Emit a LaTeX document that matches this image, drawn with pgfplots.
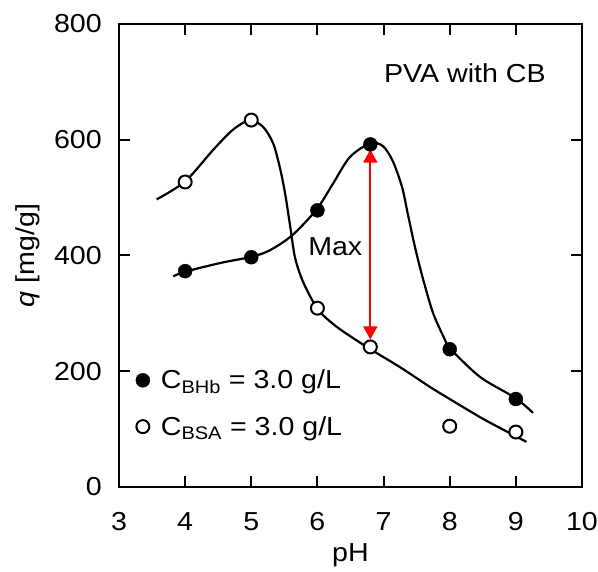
\documentclass[border=0pt]{standalone}
\usepackage{fontspec}
\setmainfont{Liberation Sans}[FakeStretch=1.1]
\usepackage{pgfplots}
\pgfplotsset{compat=1.18}
\usetikzlibrary{arrows.meta}

\begin{document}
\begin{tikzpicture}
\useasboundingbox (-119pt,-85pt) rectangle (479pt,487pt);
\begin{axis}[
    scale only axis,
    width=463pt, height=463pt,
    xmin=3, xmax=10, ymin=0, ymax=800,
    xtick={3,...,10},
    ytick={0,200,...,800},
    tick align=inside,
    major tick length=11pt,
    axis line style={line width=2pt},
    every tick/.style={black, line width=2pt},
    font=\fontsize{26}{31}\selectfont,
    /pgf/number format/assume math mode=true,
    xticklabel style={anchor=center, inner sep=0pt, yshift=-35pt},
    yticklabel style={anchor=east, inner sep=0pt, xshift=-17pt},
    xlabel={pH},
    ylabel={\textit{q} [mg/g]},
    xlabel style={at={(axis description cs:0.5,-0.147)}, anchor=center},
    ylabel style={at={(axis description cs:-0.197,0.5)}, anchor=center},
    legend style={at={(rel axis cs:0.036,0.255)}, anchor=north west, draw=none, fill=none,
        inner sep=0pt, row sep=24pt, column sep=10pt, font=\fontsize{26}{31}\selectfont,
        nodes={inner sep=1pt, anchor=west}},
    legend cell align=left,
    legend image code/.code={\draw plot coordinates {(0.25cm,0cm)};},
]
% fitted curves
\addplot[black, line width=2.2pt, smooth, forget plot] coordinates {
    (3.57,497) (4.0,528) (4.42,582) (4.72,617) (4.98,634) (5.18,622) (5.33,594)
    (5.43,553) (5.51,508) (5.59,449) (5.66,397) (5.77,358) (5.92,323) (6.04,302)
    (6.30,276) (6.65,249) (6.80,238) (7.25,207) (7.70,173) (8.0,152) (8.5,118)
    (8.96,90) (9.16,78)
};
\addplot[black, line width=2.2pt, smooth, forget plot] coordinates {
    (3.82,364) (4.0,372) (4.53,387) (5.01,398) (5.28,409) (5.62,435) (5.99,480)
    (6.24,525) (6.49,570) (6.80,594) (6.99,589) (7.14,563) (7.28,518) (7.37,470)
    (7.48,412) (7.60,358) (7.75,300) (7.93,254) (8.0,240) (8.46,190) (8.99,154)
    (9.26,128)
};
% measured data
\addplot[only marks, mark=*, mark size=7pt, draw=black, fill=black] coordinates {
    (4,373) (5,397) (6,478) (6.8,592) (8,238) (9,152)
};
\addplot[only marks, mark=*, mark size=6.5pt, line width=2pt, draw=black, fill=white] coordinates {
    (4,527) (5,634) (6,309) (6.8,242) (8,105) (9,95)
};
\legend{C\textsubscript{BHb} = 3.0 g/L, C\textsubscript{BSA} = 3.0 g/L}
\draw[red, line width=2pt, {Triangle[length=13pt,width=14pt]}-{Triangle[length=13pt,width=14pt]}]
    (axis cs:6.8,583) -- (axis cs:6.8,255);
\node[font=\fontsize{26}{31}\selectfont] at (axis cs:6.27,416) {Max};
\node[font=\fontsize{26}{31}\selectfont] at (axis cs:8.23,715) {PVA with CB};
\end{axis}
\end{tikzpicture}
\end{document}
